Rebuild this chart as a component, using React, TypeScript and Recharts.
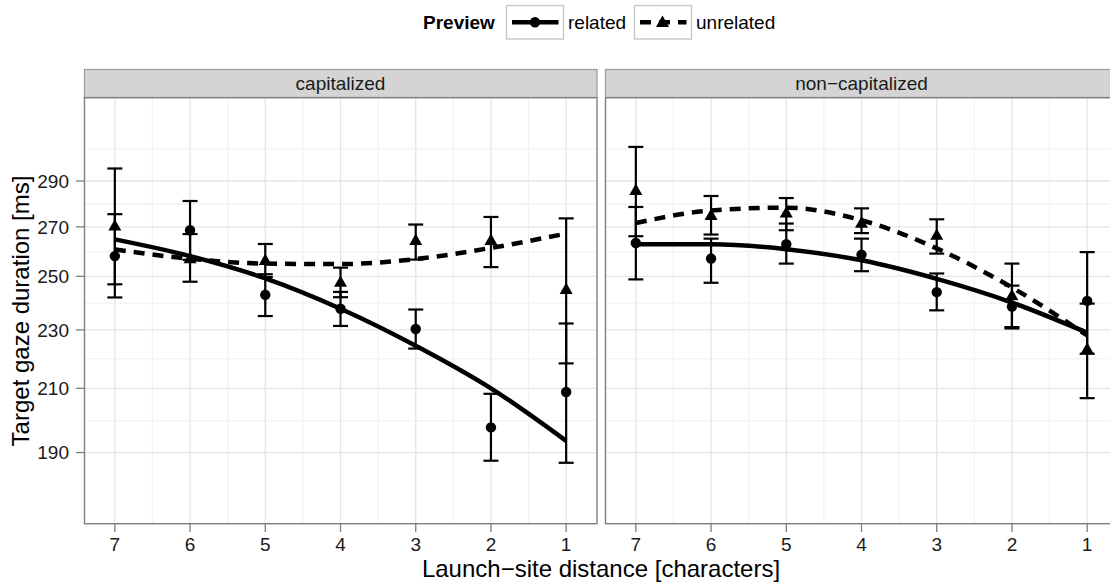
import React from 'react';
import { ComposedChart, Line, Scatter, XAxis, YAxis, CartesianGrid, ErrorBar } from 'recharts';

// Launch-site distance categories (x axis, reversed)
const distances = [7, 6, 5, 4, 3, 2, 1];
const xTicks = [7, 6, 5, 4, 3, 2, 1];
const xMinorTicks = [6.5, 5.5, 4.5, 3.5, 2.5, 1.5];
const yTicks = [190, 210, 230, 250, 270, 290];
const yMinorTicks = [199.7, 219.9, 239.8, 259.8, 279.8, 304.9];

// capitalized panel
const capRelatedMean = [258.0, 268.6, 242.9, 237.7, 230.3, 197.6, 208.8];
const capRelatedLow = [241.9, 256.5, 235.0, 231.4, 223.4, 187.6, 187.0];
const capRelatedHigh = [275.4, 281.1, 250.8, 244.0, 237.4, 208.2, 232.3];
const capUnrelatedMean = [270.4, 257.0, 256.3, 247.7, 264.4, 264.4, 245.0];
const capUnrelatedLow = [246.9, 247.9, 249.7, 242.0, 256.6, 253.6, 218.3];
const capUnrelatedHigh = [295.7, 267.0, 262.9, 253.4, 271.0, 274.2, 273.6];
const capRelatedFit = [264.8, 258.0, 249.2, 237.7, 224.4, 210.0, 193.5];
const capUnrelatedFit = [260.7, 256.9, 255.0, 254.8, 256.8, 261.3, 267.2];

// non-capitalized panel
const nonRelatedMean = [263.3, 257.0, 262.8, 258.6, 243.9, 238.5, 240.6];
const nonRelatedLow = [248.8, 247.5, 255.0, 252.0, 237.1, 231.0, 221.6];
const nonRelatedHigh = [278.5, 265.1, 271.4, 265.1, 251.1, 246.4, 259.6];
const nonUnrelatedMean = [285.8, 274.9, 275.9, 271.6, 266.5, 242.6, 223.2];
const nonUnrelatedLow = [266.1, 266.8, 268.6, 267.4, 259.0, 230.5, 206.8];
const nonUnrelatedHigh = [305.8, 283.3, 282.4, 277.9, 273.2, 255.0, 239.6];
const nonRelatedFit = [262.8, 262.8, 260.8, 256.3, 249.0, 240.0, 229.0];
const nonUnrelatedFit = [271.6, 277.0, 278.2, 272.8, 261.1, 245.7, 228.0];

function buildRows(relM: number[], relL: number[], relH: number[], unrM: number[], unrL: number[], unrH: number[], relF: number[], unrF: number[]) {
  return distances.map((d, i) => ({
    d,
    rel: relM[i],
    relErr: [relM[i] - relL[i], relH[i] - relM[i]],
    unr: unrM[i],
    unrErr: [unrM[i] - unrL[i], unrH[i] - unrM[i]],
    relFit: relF[i],
    unrFit: unrF[i],
  }));
}

const capRows = buildRows(capRelatedMean, capRelatedLow, capRelatedHigh, capUnrelatedMean, capUnrelatedLow, capUnrelatedHigh, capRelatedFit, capUnrelatedFit);
const nonRows = buildRows(nonRelatedMean, nonRelatedLow, nonRelatedHigh, nonUnrelatedMean, nonUnrelatedLow, nonUnrelatedHigh, nonRelatedFit, nonUnrelatedFit);

const CircleShape = (p: any) => <circle cx={p.cx} cy={p.cy} r={5.2} fill="#000" />;
const TriangleShape = (p: any) => (
  <polygon
    points={`${p.cx},${p.cy - 6.8} ${p.cx - 6.5},${p.cy + 4.6} ${p.cx + 6.5},${p.cy + 4.6}`}
    fill="#000"
  />
);

function Panel({ rows, showY, width, rightMargin }: { rows: any[]; showY: boolean; width: number; rightMargin: number }) {
  return (
    <ComposedChart width={width} height={582} data={rows} margin={{ top: 98, right: rightMargin, bottom: 0, left: 0 }}>
      <CartesianGrid horizontalValues={yMinorTicks} verticalValues={xMinorTicks} stroke="#F2F2F2" strokeWidth={1.3} />
      <CartesianGrid horizontalValues={yTicks} verticalValues={xTicks} stroke="#E5E5E5" strokeWidth={1.3} />
      <XAxis
        type="number"
        dataKey="d"
        domain={[0.59, 7.41]}
        reversed
        allowDataOverflow
        ticks={xTicks}
        interval={0}
        height={58}
        tickSize={8}
        tickMargin={6}
        axisLine={false}
        tickLine={{ stroke: '#7F7F7F', strokeWidth: 1.3 }}
        tick={{ fontSize: 19, fill: '#1A1A1A' }}
      />
      <YAxis
        type="number"
        scale="log"
        domain={[170, 330]}
        allowDataOverflow
        ticks={yTicks}
        interval={0}
        hide={!showY}
        width={84}
        tickSize={8}
        tickMargin={7}
        axisLine={false}
        tickLine={{ stroke: '#7F7F7F', strokeWidth: 1.3 }}
        tick={{ fontSize: 19, fill: '#1A1A1A' }}
      />
      <Line dataKey="relFit" type="monotone" stroke="#000" strokeWidth={4.5} dot={false} activeDot={false} isAnimationActive={false} />
      <Line dataKey="unrFit" type="monotone" stroke="#000" strokeWidth={4.5} strokeDasharray="11 8" dot={false} activeDot={false} isAnimationActive={false} />
      <Scatter dataKey="rel" shape={CircleShape} isAnimationActive={false}>
        <ErrorBar dataKey="relErr" direction="y" width={7.5} stroke="#000" strokeWidth={2.2} isAnimationActive={false} />
      </Scatter>
      <Scatter dataKey="unr" shape={TriangleShape} isAnimationActive={false}>
        <ErrorBar dataKey="unrErr" direction="y" width={7.5} stroke="#000" strokeWidth={2.2} isAnimationActive={false} />
      </Scatter>
    </ComposedChart>
  );
}

export default function App() {
  const font = '"Liberation Sans", Arial, Helvetica, sans-serif';
  return (
    <div style={{ position: 'fixed', left: 0, top: 0, width: 1110, height: 582, overflow: 'hidden', background: '#fff', fontFamily: font }}>
      <div style={{ position: 'absolute', left: 0, top: 0 }}>
        <Panel rows={capRows} showY={true} width={600} rightMargin={3} />
      </div>
      <div style={{ position: 'absolute', left: 605, top: 0 }}>
        <Panel rows={nonRows} showY={false} width={520} rightMargin={7} />
      </div>
      <svg width={1110} height={582} style={{ position: 'absolute', left: 0, top: 0, pointerEvents: 'none', fontFamily: font }}>
        {/* strips */}
        <rect x={84.5} y={69.5} width={512.5} height={28} fill="#D4D4D4" stroke="#9A9A9A" strokeWidth={1.2} />
        <text x={340.5} y={90} textAnchor="middle" fontSize={19} fill="#1A1A1A">capitalized</text>
        <rect x={605.5} y={69.5} width={513} height={28} fill="#D4D4D4" stroke="#9A9A9A" strokeWidth={1.2} />
        <text x={861.5} y={90} textAnchor="middle" fontSize={19} fill="#1A1A1A">non−capitalized</text>
        {/* panel borders */}
        <rect x={84.5} y={97.7} width={512.5} height={426} fill="none" stroke="#7F7F7F" strokeWidth={1.4} />
        <rect x={605.5} y={97.7} width={513} height={426} fill="none" stroke="#7F7F7F" strokeWidth={1.4} />
        {/* axis titles */}
        <text x={601} y={577} textAnchor="middle" fontSize={24} fill="#000">Launch−site distance [characters]</text>
        <text transform="translate(28.5, 311) rotate(-90)" textAnchor="middle" fontSize={24} fill="#000">Target gaze duration [ms]</text>
        {/* legend */}
        <text x={423} y={29} fontSize={19} fontWeight="bold" fill="#000">Preview</text>
        <rect x={506.5} y={5.5} width={57} height={33.5} fill="#fff" stroke="#C8C8C8" strokeWidth={1.4} />
        <line x1={512} y1={22.3} x2={558.5} y2={22.3} stroke="#000" strokeWidth={4.5} />
        <circle cx={535} cy={22.3} r={5.2} fill="#000" />
        <text x={568} y={29} fontSize={19} fill="#000">related</text>
        <rect x={634.5} y={5.5} width={57} height={33.5} fill="#fff" stroke="#C8C8C8" strokeWidth={1.4} />
        <line x1={640} y1={22.3} x2={686.5} y2={22.3} stroke="#000" strokeWidth={4.5} strokeDasharray="11 8" />
        <polygon points="662.5,15.5 656,26.9 669,26.9" fill="#000" />
        <text x={696} y={29} fontSize={19} fill="#000">unrelated</text>
      </svg>
    </div>
  );
}
